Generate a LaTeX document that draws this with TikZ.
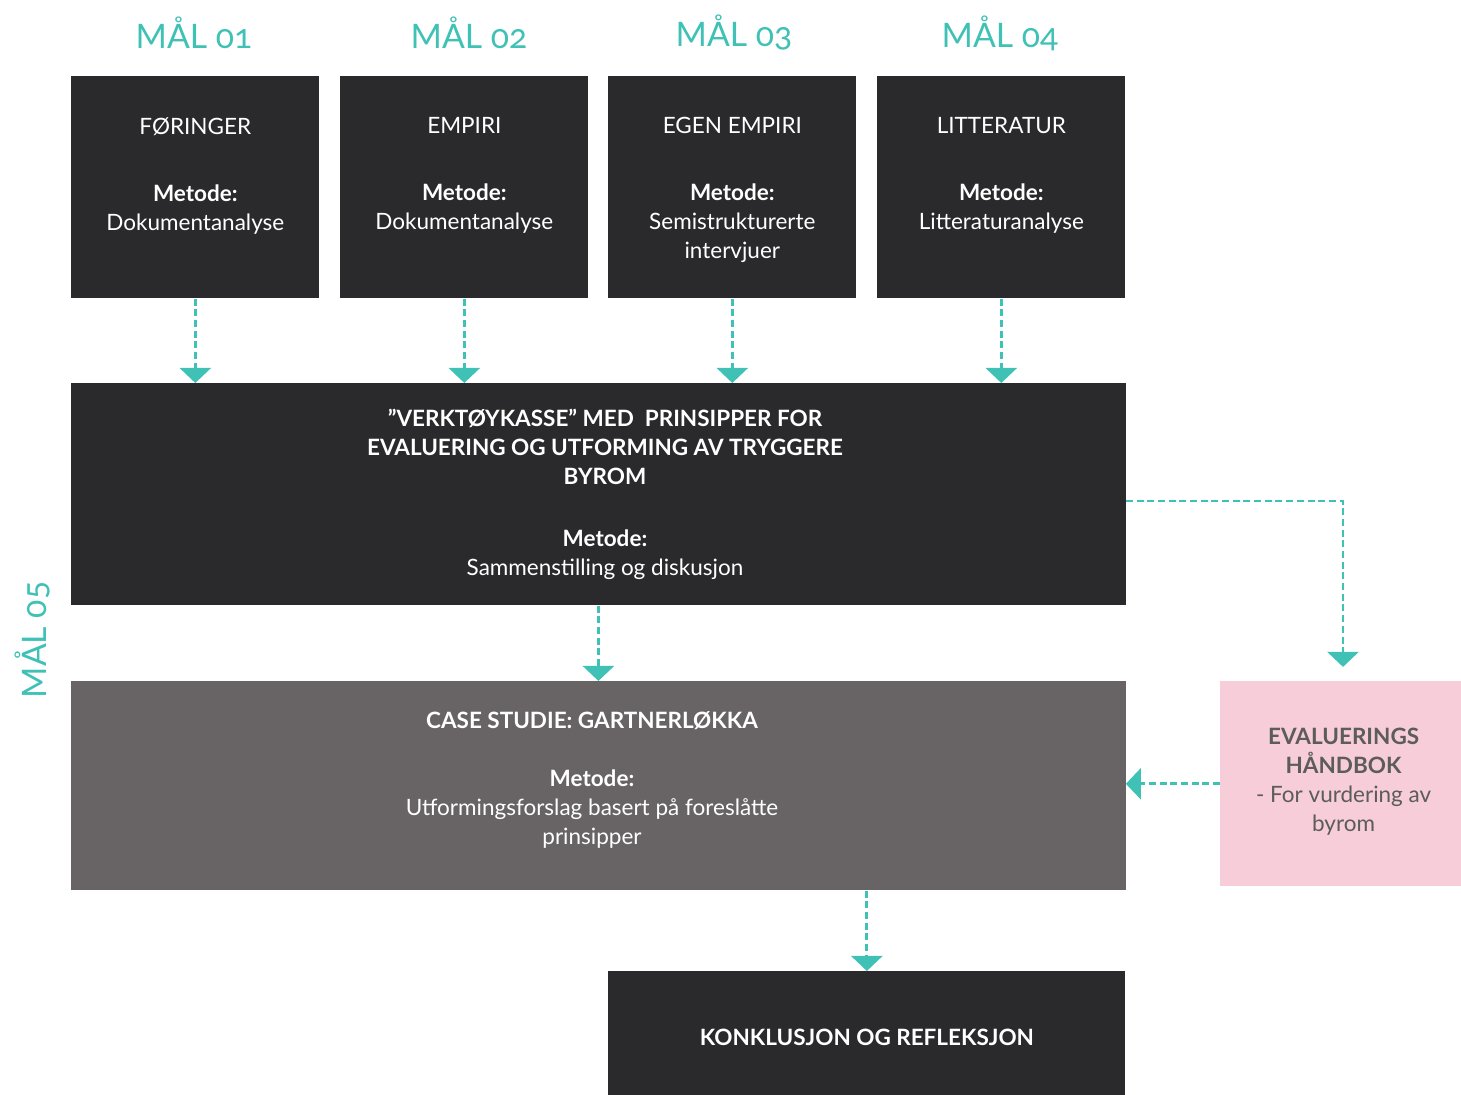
\documentclass[tikz,border=0pt]{standalone}
\usepackage{fontspec}
\setmainfont{Lato}
\newfontfamily\malfont[Numbers=OldStyle]{Lato}
\usetikzlibrary{positioning,arrows.meta}
\definecolor{boxdark}{HTML}{2A2A2C}
\definecolor{boxgrey}{HTML}{686465}
\definecolor{boxpink}{HTML}{F7CDD9}
\definecolor{malteal}{HTML}{3FC1B6}
\definecolor{pinktext}{HTML}{5C5C5C}
\tikzset{
  box node/.style={
    fill=boxdark, anchor=north west, inner sep=0pt
  },
  box text/.style={
    text=white, align=center, inner sep=0pt,
    font=\fontsize{16}{20.6}\selectfont
  },
  mal node/.style={
    text=malteal, font=\malfont\fontsize{24}{28}\selectfont
  },
  flow/.style={
    malteal, line width=2.1pt, dash pattern=on 5pt off 2.6pt,
    -{Triangle[width=22pt,length=10.7pt]}
  }
}

\begin{document}
\begin{tikzpicture}[x=0.025cm, y=-0.025cm]
    \useasboundingbox (0,0) rectangle (1461,1095);
    % maal
    \draw (194,33) node[mal node] (mal1) {MÅL 01};
    \draw (469,33) node[mal node] (mal2) {MÅL 02};
    \draw (734,33) node[mal node] (mal3) {MÅL 03};
    \draw (1000,33) node[mal node] (mal4) {MÅL 04};
    \draw (33,640) node[mal node, rotate=90] (mal5) {MÅL 05};
    % kilder
    \draw (71,76) node[box node, minimum width=6.2cm, minimum height=5.55cm] (foringer) {};
    \draw (340,76) node[box node, minimum width=6.2cm, minimum height=5.55cm] (empiri) {};
    \draw (608,76) node[box node, minimum width=6.2cm, minimum height=5.55cm] (egen) {};
    \draw (877,76) node[box node, minimum width=6.2cm, minimum height=5.55cm] (litteratur) {};
    \node[box text, anchor=north] (foringertxt) at (foringer.north |- 0,117) {FØRINGER\\[27pt]\textbf{Metode:}\\Dokumentanalyse};
    \node[box text, anchor=north] (empiritxt) at (empiri.north |- 0,117) {EMPIRI\\[27pt]\textbf{Metode:}\\Dokumentanalyse};
    \node[box text, anchor=north] (egentxt) at (egen.north |- 0,117) {EGEN EMPIRI\\[27pt]\textbf{Metode:}\\Semistrukturerte\\intervjuer};
    \node[box text, anchor=north] (litteraturtxt) at (litteratur.north |- 0,117) {LITTERATUR\\[27pt]\textbf{Metode:}\\Litteraturanalyse};
    % verktoykasse
    \draw (71,383) node[box node, minimum width=26.35cm, minimum height=5.55cm] (verktoy) {};
    \node[box text, anchor=north] (verktoytxt) at (605,409) {\textbf{”VERKTØYKASSE” MED\ \ PRINSIPPER FOR}\\\textbf{EVALUERING OG UTFORMING AV TRYGGERE}\\\textbf{BYROM}\\[23.5pt]\textbf{Metode:}\\Sammenstilling og diskusjon};
    % case
    \draw (71,681) node[box node, fill=boxgrey, minimum width=26.35cm, minimum height=5.225cm] (case) {};
    \node[box text] (casetxt) at (592,780) {\textbf{CASE STUDIE: GARTNERLØKKA}\\[20.6pt]\textbf{Metode:}\\Utformingsforslag basert på foreslåtte\\prinsipper};
    % haandbok
    \draw (1220,681) node[box node, fill=boxpink, minimum width=6.025cm, minimum height=5.125cm] (handbok) {};
    \node[box text, text=pinktext] (handboktxt) at ([xshift=2pt,yshift=1.5pt]handbok.center) {\textbf{EVALUERINGS}\\\textbf{HÅNDBOK}\\- For vurdering av\\byrom};
    % konklusjon
    \draw (608,971) node[box node, minimum width=12.925cm, minimum height=3.1cm] (konklusjon) {};
    \node[box text] (konklusjontxt) at ([yshift=-3pt]konklusjon.center) {\textbf{KONKLUSJON OG REFLEKSJON}};
    % piler
    \draw[flow] (foringer.south) -- (foringer.south |- verktoy.north);
    \draw[flow] (empiri.south) -- (empiri.south |- verktoy.north);
    \draw[flow] (egen.south) -- (egen.south |- verktoy.north);
    \draw[flow] (litteratur.south) -- (litteratur.south |- verktoy.north);
    \draw[flow] (verktoy.south) -- (case.north);
    \coordinate (knekk) at (1343,501);
    \draw[flow, shorten >=10pt] (verktoy.east |- knekk) -- (knekk) -- (knekk |- handbok.north);
    \draw[flow] (handbok.west) -- (handbok.west -| case.east);
    \draw[flow] (konklusjon.north |- case.south) -- (konklusjon.north);
\end{tikzpicture}
\end{document}
